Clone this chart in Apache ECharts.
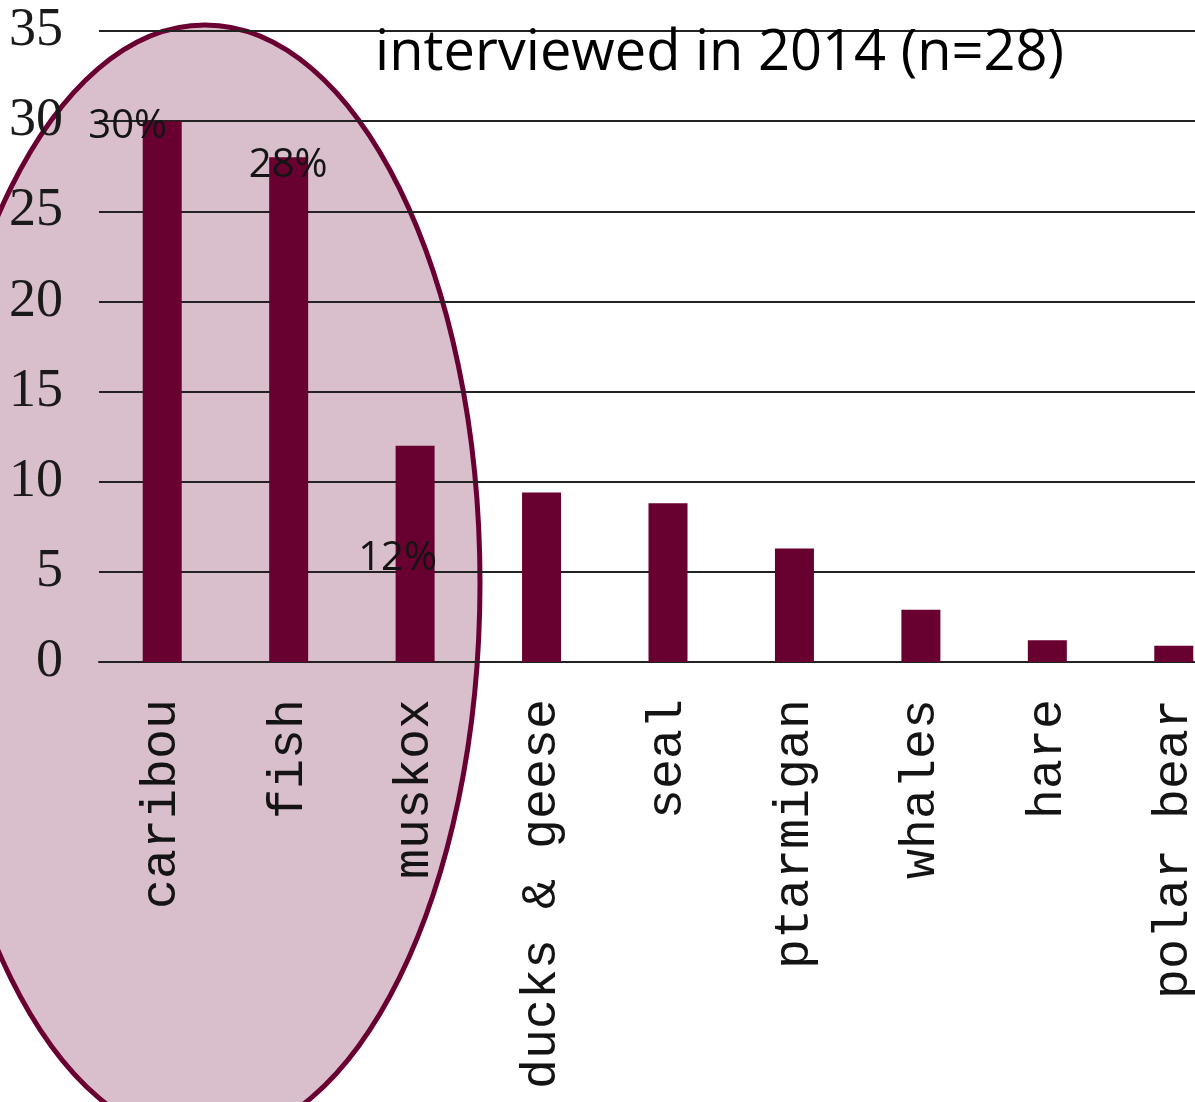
<!DOCTYPE html>
<html>
<head>
<meta charset="utf-8">
<script src="https://cdn.jsdelivr.net/npm/echarts@6/dist/echarts.min.js"></script>
<style>
  html, body { margin: 0; padding: 0; background: #ffffff; }
  #chart { width: 1195px; height: 1102px; }
</style>
</head>
<body>
<div id="chart"></div>
<script>
// Share of respondents naming each animal
const categories = ['caribou', 'fish', 'muskox', 'ducks & geese', 'seal', 'ptarmigan', 'whales', 'hare', 'polar bear'];
const values = [30, 28, 12, 9.4, 8.8, 6.3, 2.9, 1.2, 0.9];
const yTicks = [0, 5, 10, 15, 20, 25, 30, 35];
const titleText = 'interviewed in 2014 (n=28)';

// Where the percentage labels sit, relative to each bar's top-left corner
const labelOffsets = { 0: [-15, 5], 1: [19, 8], 2: [2, 113] };

const BAR = '#680030';

const seriesData = values.map((v, i) => {
  const item = { value: v };
  if (labelOffsets[i]) {
    item.label = {
      show: true,
      position: labelOffsets[i],
      align: 'center',
      verticalAlign: 'middle',
      formatter: '{c}%',
      fontFamily: 'Open Sans',
      fontSize: 40,
      color: '#141414'
    };
  }
  return item;
});

const chart = echarts.init(document.getElementById('chart'), null, { renderer: 'canvas' });

chart.setOption({
  animation: false,
  backgroundColor: '#ffffff',
  // the plot runs past the right edge of the page, so the last bar is cut at the border
  grid: {
    left: 99, top: 31, height: 631, width: 1138,
    containLabel: false,
    outerBoundsMode: 'none'
  },
  graphic: [
    {
      type: 'ellipse',
      z: -10,
      silent: true,
      shape: { cx: 205, cy: 583, rx: 275, ry: 558 },
      style: { fill: '#d9bfcb', stroke: '#6a0032', lineWidth: 5 }
    },
    {
      type: 'text',
      z: 10,
      style: {
        x: 375, y: 54,
        text: titleText,
        font: '56px "Open Sans"',
        fill: '#000000',
        verticalAlign: 'middle'
      }
    }
  ],
  xAxis: {
    type: 'category',
    data: categories,
    axisLine: { show: true, lineStyle: { color: '#222222', width: 2 } },
    axisTick: { show: false },
    axisLabel: {
      rotate: 90,
      margin: 37,
      interval: 0,
      fontFamily: 'Liberation Mono',
      fontSize: 50,
      color: '#141414'
    }
  },
  yAxis: {
    type: 'value',
    min: yTicks[0],
    max: yTicks[yTicks.length - 1],
    interval: 5,
    axisLine: { show: false },
    axisTick: { show: false },
    axisLabel: {
      margin: 36,
      fontFamily: 'Liberation Serif',
      fontSize: 54,
      color: '#1a1a1a'
    },
    splitLine: { show: true, lineStyle: { color: '#222222', width: 2 } }
  },
  series: [{
    type: 'bar',
    data: seriesData,
    barWidth: 39,
    itemStyle: { color: BAR },
    label: { show: false }
  }]
});
</script>
</body>
</html>
